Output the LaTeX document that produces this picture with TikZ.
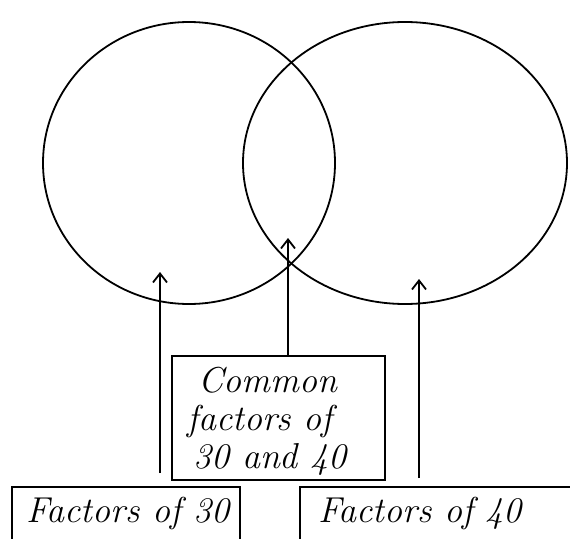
\documentclass[tikz,border=0pt]{standalone}
\usetikzlibrary{arrows.meta}
\begin{document}
\begin{tikzpicture}[x=1pt,y=-1pt,
  ln/.style={line width=1.8pt},
  boxn/.style={draw,line width=1.5pt,inner sep=0pt,rectangle},
  arr/.style={line width=1.8pt,-{Straight Barb[length=9pt,width=14pt,line width=1.8pt]}},
  lbl/.style={font=\fontsize{36}{40}\selectfont\itshape,inner sep=0pt,anchor=base}]
\useasboundingbox (0,0) rectangle (570,538);
\fill[white] (0,0) rectangle (570,538);
% circles
\draw[ln] (189,163) ellipse [x radius=146pt, y radius=141pt];
\draw[ln] (405,163) ellipse [x radius=162pt, y radius=141pt];
\coordinate (tl) at (160,272);
\coordinate (tm) at (288,238);
\coordinate (tr) at (419,279);
% boxes
\node[boxn,minimum width=213pt,minimum height=124pt] (common) at (278.5,418) {};
\node[boxn,minimum width=228pt,minimum height=80pt] (f30) at (126,527) {};
\node[boxn,minimum width=275pt,minimum height=80pt] (f40) at (437.5,527) {};
\node[lbl] (c1) at (268,392) {Common};
\node[lbl] (c2) at (260,430) {factors of};
\node[lbl] (c3) at (270,468) {30 and 40};
\node[lbl] (t30) at (128,522) {Factors of 30};
\node[lbl] (t40) at (420,522) {Factors of 40};
% arrows
\draw[arr] (160,473) -- (tl);
\draw[arr] (common.north -| tm) -- (tm);
\draw[arr] (419,478) -- (tr);
\end{tikzpicture}
\end{document}
